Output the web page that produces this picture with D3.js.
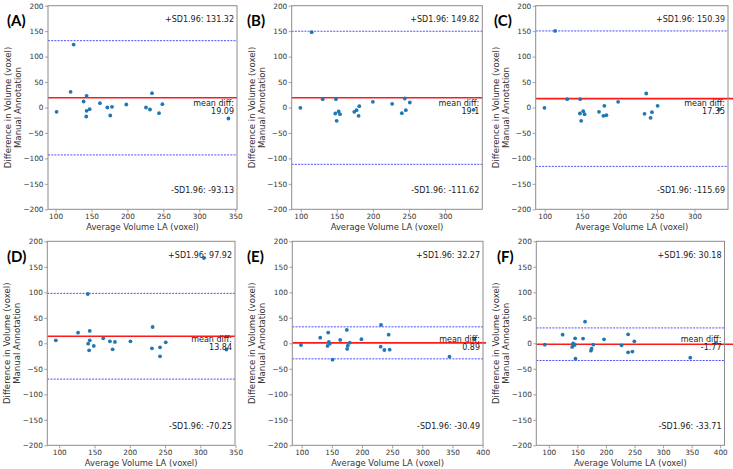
<!DOCTYPE html>
<html>
<head>
<meta charset="utf-8">
<script src="https://cdn.jsdelivr.net/npm/d3@7"></script>
<style>
  html, body { margin: 0; padding: 0; background: #fff; }
  svg { display: block; }
  text { font-family: "DejaVu Sans", sans-serif; }
</style>
</head>
<body>
<svg id="chart" width="733" height="469"></svg>
<script>
// ---- Data ----
const panelLabels = ["(A)", "(B)", "(C)", "(D)", "(E)", "(F)"];
const meanDiffs = [19.09, 19.1, 17.35, 13.84, 0.89, -1.77];
const upperSD = [131.32, 149.82, 150.39, 97.92, 32.27, 30.18];
const lowerSD = [-93.13, -111.62, -115.69, -70.25, -30.49, -33.71];
const meanLabels = ["19.09", "19.1", "17.35", "13.84", "0.89", "-1.77"];

const xTicksA = [100, 150, 200, 250, 300, 350];
const xTicksB = [100, 150, 200, 250, 300];
const xTicksE = [100, 150, 200, 250, 300, 350, 400];
const yTicks = [-200, -150, -100, -50, 0, 50, 100, 150, 200];

const avgA = [101.4, 120.9, 125.1, 139.0, 143.2, 143.2, 142.7, 147.4, 161.7, 172.0, 176.1, 178.5, 198.4, 225.8, 231.4, 234.2, 243.9, 248.6, 340.5];
const diffA = [-8.5, 30.8, 123.7, 11.8, 22.9, -6.5, -17.7, -3.3, 8.5, 0.0, -15.7, 1.3, 5.9, 0.0, -3.9, 28.1, -11.1, 6.5, -21.6];

const avgB = [99.5, 115.2, 130.4, 148.8, 147.9, 149.8, 152.5, 154.4, 174.2, 177.4, 180.2, 181.1, 200.0, 226.7, 240.1, 244.2, 245.6, 251.2, 339.6];
const diffB = [-0.7, 147.9, 16.4, 16.4, -11.8, -26.2, -7.9, -13.1, -8.5, -5.2, -16.4, 2.6, 11.1, 7.2, -11.1, 17.7, -5.2, 9.8, -4.6];

const avgC = [99.6, 113.9, 130.0, 147.4, 147.0, 148.7, 151.4, 153.2, 172.5, 178.3, 179.6, 182.3, 198.0, 233.3, 235.6, 241.4, 243.2, 250.8, 333.1];
const diffC = [-0.7, 150.5, 16.4, 16.4, -11.8, -26.2, -7.2, -13.1, -8.5, -16.4, 3.3, -15.1, 11.1, -12.4, 27.5, -20.3, -9.2, 3.3, -3.9];

const avgD = [95.2, 126.7, 140.5, 143.3, 141.0, 143.3, 142.4, 149.0, 162.4, 171.9, 175.7, 179.0, 201.0, 231.4, 232.4, 242.9, 242.9, 251.0, 305.2, 337.1];
const diffD = [5.9, 20.9, 96.7, 24.2, -0.7, 5.9, -13.7, -5.2, 9.8, 3.9, -11.8, 2.6, 3.9, -9.8, 32.0, -7.8, -25.5, 2.0, 167.3, -12.4];

const avgE = [98.9, 130.8, 144.0, 142.9, 145.1, 146.7, 151.2, 163.9, 174.9, 175.4, 176.5, 179.8, 199.1, 231.0, 231.6, 237.1, 244.2, 245.9, 345.0, 386.2];
const diffE = [-3.3, 11.1, 21.0, -5.2, 2.6, -0.7, -32.1, 6.6, 26.2, -11.1, -4.6, 1.3, 7.9, -6.6, 36.1, -13.1, 17.0, -12.5, -26.2, 7.9];

const avgF = [93.1, 124.2, 140.9, 142.6, 144.3, 146.1, 145.5, 146.7, 160.0, 163.4, 173.7, 174.9, 177.8, 196.7, 227.3, 238.8, 238.8, 246.3, 249.7, 347.6, 392.5];
const diffF = [-2.6, 17.0, -7.2, 0.0, -3.3, 9.8, -2.6, -30.1, 9.2, 42.5, -14.4, -10.5, -2.6, 7.8, -3.9, 17.6, -17.6, -16.3, 3.9, -28.1, 0.7];

const xLabel = "Average Volume LA (voxel)";
const yLabel1 = "Difference in Volume (voxel)";
const yLabel2 = "Manual Annotation";

// ---- Layout ----
const panels = [
  { avg: avgA, diff: diffA, ticks: xTicksA, left: 48,    right: 237,   top: 5.7,   bottom: 209.3, over: 0,  lab: [7, 20] },
  { avg: avgB, diff: diffB, ticks: xTicksB, left: 291.7, right: 482.3, top: 5.7,   bottom: 209.3, over: 0,  lab: [247, 20] },
  { avg: avgC, diff: diffC, ticks: xTicksB, left: 535.7, right: 728,   top: 5.7,   bottom: 209.3, over: 5,  lab: [494, 20] },
  { avg: avgD, diff: diffD, ticks: xTicksA, left: 47.3,  right: 235,   top: 241.3, bottom: 445.3, over: 0,  lab: [7, 256] },
  { avg: avgE, diff: diffE, ticks: xTicksE, left: 292.3, right: 483,   top: 241.3, bottom: 445.3, over: 3,  lab: [247, 256] },
  { avg: avgF, diff: diffF, ticks: xTicksE, left: 536.3, right: 724.5, top: 241.3, bottom: 445.3, over: 9,  lab: [497, 256] }
];

const svg = d3.select("#chart");
const spineColor = "#8c8c8c";
const textColor = "#333";

panels.forEach((p, i) => {
  const ext = d3.extent(p.avg);
  const pad = (ext[1] - ext[0]) * 0.05;
  const x = d3.scaleLinear().domain([ext[0] - pad, ext[1] + pad]).range([p.left, p.right]);
  const y = d3.scaleLinear().domain([-200, 200]).range([p.bottom, p.top]);
  const g = svg.append("g");

  // axes
  const xAxis = d3.axisBottom(x).tickValues(p.ticks).tickSize(3).tickPadding(2).tickFormat(d3.format("d"));
  const yAxis = d3.axisLeft(y).tickValues(yTicks).tickSize(3).tickPadding(1.5).tickFormat(d => d < 0 ? "\u2212" + Math.abs(d) : d);

  const gx = g.append("g").attr("transform", `translate(0,${p.bottom})`).call(xAxis);
  const gy = g.append("g").attr("transform", `translate(${p.left},0)`).call(yAxis);
  [gx, gy].forEach(a => {
    a.select(".domain").remove();
    a.selectAll(".tick line").attr("stroke", spineColor).attr("stroke-width", 0.8);
    a.selectAll(".tick text").attr("fill", textColor).style("font-size", "7.3px").style("font-family", "DejaVu Sans");
  });

  // reference lines
  g.append("line")
    .attr("x1", p.left).attr("x2", p.right)
    .attr("y1", y(upperSD[i])).attr("y2", y(upperSD[i]))
    .attr("stroke", "#3b3bff").attr("stroke-width", 0.9).attr("stroke-dasharray", "2,1.2");
  g.append("line")
    .attr("x1", p.left).attr("x2", p.right)
    .attr("y1", y(lowerSD[i])).attr("y2", y(lowerSD[i]))
    .attr("stroke", "#3b3bff").attr("stroke-width", 0.9).attr("stroke-dasharray", "2,1.2");
  g.append("line")
    .attr("x1", p.left).attr("x2", p.right + p.over)
    .attr("y1", y(meanDiffs[i])).attr("y2", y(meanDiffs[i]))
    .attr("stroke", "#ff1a1a").attr("stroke-width", 1.6);

  // points
  g.selectAll("circle.pt").data(p.avg.map((v, k) => [v, p.diff[k]])).enter()
    .append("circle").attr("class", "pt")
    .attr("cx", d => x(d[0])).attr("cy", d => y(d[1])).attr("r", 1.9)
    .attr("fill", "#1f77b4");

  // spines
  g.append("rect")
    .attr("x", p.left).attr("y", p.top)
    .attr("width", p.right - p.left).attr("height", p.bottom - p.top)
    .attr("fill", "none").attr("stroke", spineColor).attr("stroke-width", 1);

  // annotations
  const tx = p.right - 3;
  const annot = (txt, yy) => g.append("text").attr("x", tx).attr("y", yy)
    .attr("text-anchor", "end").attr("dominant-baseline", "central")
    .attr("fill", "#222").style("font-size", "8px").text(txt);
  annot("+SD1.96: " + upperSD[i].toFixed(2), p.top + 13.8);
  const mid = (p.top + p.bottom) / 2;
  annot("mean diff:", mid - 4.3);
  annot(meanLabels[i], mid + 4.3);
  annot("-SD1.96: " + lowerSD[i].toFixed(2), p.bottom - 18.8);

  // axis labels
  g.append("text")
    .attr("x", (p.left + p.right) / 2).attr("y", p.bottom + 17.5)
    .attr("text-anchor", "middle").attr("dominant-baseline", "central")
    .attr("fill", textColor).style("font-size", "8.4px").text(xLabel);
  const cy = (p.top + p.bottom) / 2;
  g.append("text")
    .attr("transform", `translate(${p.left - 40},${cy}) rotate(-90)`)
    .attr("text-anchor", "middle").attr("dominant-baseline", "central")
    .attr("fill", textColor).style("font-size", "8.6px").text(yLabel1);
  g.append("text")
    .attr("transform", `translate(${p.left - 30},${cy}) rotate(-90)`)
    .attr("text-anchor", "middle").attr("dominant-baseline", "central")
    .attr("fill", textColor).style("font-size", "8.6px").text(yLabel2);

  // panel label
  g.append("text")
    .attr("x", p.lab[0]).attr("y", p.lab[1])
    .attr("dominant-baseline", "central")
    .attr("fill", "#000").style("font-family", "Lato, 'Liberation Sans', sans-serif")
    .style("font-weight", "bold").style("font-size", "15px").text(panelLabels[i]);
});
</script>
</body>
</html>
